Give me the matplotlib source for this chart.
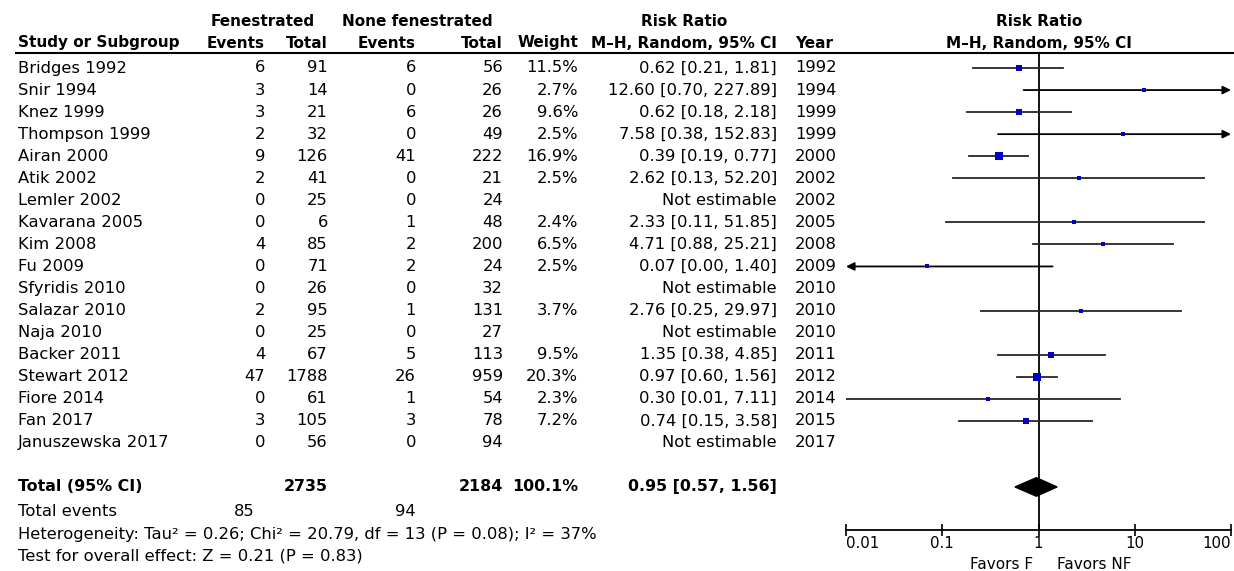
import matplotlib

matplotlib.use("Agg")
import matplotlib.pyplot as plt
import numpy as np
from matplotlib.patches import Polygon

# ---- data ----
studies = ["Bridges 1992", "Snir 1994", "Knez 1999", "Thompson 1999", "Airan 2000",
           "Atik 2002", "Lemler 2002", "Kavarana 2005", "Kim 2008", "Fu 2009",
           "Sfyridis 2010", "Salazar 2010", "Naja 2010", "Backer 2011", "Stewart 2012",
           "Fiore 2014", "Fan 2017", "Januszewska 2017"]
f_events = [6, 3, 3, 2, 9, 2, 0, 0, 4, 0, 0, 2, 0, 4, 47, 0, 3, 0]
f_total = [91, 14, 21, 32, 126, 41, 25, 6, 85, 71, 26, 95, 25, 67, 1788, 61, 105, 56]
nf_events = [6, 0, 6, 0, 41, 0, 0, 1, 2, 2, 0, 1, 0, 5, 26, 1, 3, 0]
nf_total = [56, 26, 26, 49, 222, 21, 24, 48, 200, 24, 32, 131, 27, 113, 959, 54, 78, 94]
weights = [11.5, 2.7, 9.6, 2.5, 16.9, 2.5, None, 2.4, 6.5, 2.5, None, 3.7, None,
           9.5, 20.3, 2.3, 7.2, None]
rr = [0.62, 12.60, 0.62, 7.58, 0.39, 2.62, None, 2.33, 4.71, 0.07, None, 2.76, None,
      1.35, 0.97, 0.30, 0.74, None]
ci_lo = [0.21, 0.70, 0.18, 0.38, 0.19, 0.13, None, 0.11, 0.88, 0.00, None, 0.25, None,
         0.38, 0.60, 0.01, 0.15, None]
ci_hi = [1.81, 227.89, 2.18, 152.83, 0.77, 52.20, None, 51.85, 25.21, 1.40, None, 29.97,
         None, 4.85, 1.56, 7.11, 3.58, None]
years = [1992, 1994, 1999, 1999, 2000, 2002, 2002, 2005, 2008, 2009, 2010, 2010, 2010,
         2011, 2012, 2014, 2015, 2017]

tot_f, tot_nf = 2735, 2184
tot_ev_f, tot_ev_nf = 85, 94
pooled, pooled_lo, pooled_hi = 0.95, 0.57, 1.56
het_text = "Heterogeneity: Tau² = 0.26; Chi² = 20.79, df = 13 (P = 0.08); I² = 37%"
overall_text = "Test for overall effect: Z = 0.21 (P = 0.83)"

xticks = [0.01, 0.1, 1, 10, 100]
xtick_labels = ["0.01", "0.1", "1", "10", "100"]
XMIN, XMAX = 0.01, 100

# ---- layout (pixels of a 1234x571 canvas) ----
W, H = 1234, 571
ROW0, ROWH = 68, 22.05          # y pixel of first study row, row pitch
def row_of(py):
    return (py - ROW0) / ROWH

FS = 11.8      # body text
FSB = 11       # bold header text
plt.rcParams["font.family"] = ["DejaVu Sans"]
fig = plt.figure(figsize=(W / 100, H / 100), dpi=100)

# table axes: x in pixels, y in row units
tab = fig.add_axes([0, 0, 1, 1])
tab.set_xlim(0, W)
tab.set_ylim(row_of(H), row_of(0))
tab.axis("off")

X_NAME, X_EV1, X_TOT1, X_EV2, X_TOT2 = 18, 265, 328, 416, 503
X_W, X_CI, X_YEAR, X_RR = 578, 777, 795, 684

hdr = dict(fontsize=FSB, fontweight="bold", va="center")
y1, y2 = row_of(21), row_of(43)
tab.text(263, y1, "Fenestrated", ha="center", **hdr)
tab.text(417, y1, "None fenestrated", ha="center", **hdr)
tab.text(X_RR, y1, "Risk Ratio", ha="center", **hdr)
tab.text(1039, y1, "Risk Ratio", ha="center", **hdr)
tab.text(X_NAME, y2, "Study or Subgroup", ha="left", **hdr)
tab.text(X_EV1, y2, "Events", ha="right", **hdr)
tab.text(X_TOT1, y2, "Total", ha="right", **hdr)
tab.text(X_EV2, y2, "Events", ha="right", **hdr)
tab.text(X_TOT2, y2, "Total", ha="right", **hdr)
tab.text(X_W, y2, "Weight", ha="right", **hdr)
tab.text(X_RR, y2, "M–H, Random, 95% CI", ha="center", **hdr)
tab.text(X_YEAR, y2, "Year", ha="left", **hdr)
tab.text(1039, y2, "M–H, Random, 95% CI", ha="center", **hdr)
tab.plot([15, W], [row_of(52.5)] * 2, color="black", lw=1.5, solid_capstyle="butt")

body = dict(fontsize=FS, va="center")
for i, name in enumerate(studies):
    tab.text(X_NAME, i, name, ha="left", **body)
    tab.text(X_EV1, i, str(f_events[i]), ha="right", **body)
    tab.text(X_TOT1, i, str(f_total[i]), ha="right", **body)
    tab.text(X_EV2, i, str(nf_events[i]), ha="right", **body)
    tab.text(X_TOT2, i, str(nf_total[i]), ha="right", **body)
    if weights[i] is not None:
        tab.text(X_W, i, f"{weights[i]:.1f}%", ha="right", **body)
        ci = f"{rr[i]:.2f} [{ci_lo[i]:.2f}, {ci_hi[i]:.2f}]"
    else:
        ci = "Not estimable"
    tab.text(X_CI, i, ci, ha="right", **body)
    tab.text(X_YEAR, i, str(years[i]), ha="left", **body)

yt = len(studies) + 1
bold = dict(fontsize=11.4, fontweight="bold", va="center")
tab.text(X_NAME, yt, "Total (95% CI)", ha="left", **bold)
tab.text(X_TOT1, yt, str(tot_f), ha="right", **bold)
tab.text(X_TOT2, yt, str(tot_nf), ha="right", **bold)
tab.text(X_W, yt, f"{sum(w for w in weights if w):.1f}%", ha="right", **bold)
tab.text(X_CI, yt, f"{pooled:.2f} [{pooled_lo:.2f}, {pooled_hi:.2f}]", ha="right", **bold)
tab.text(X_NAME, row_of(511), "Total events", ha="left", **body)
tab.text(255, row_of(511), str(tot_ev_f), ha="right", **body)
tab.text(X_EV2, row_of(511), str(tot_ev_nf), ha="right", **body)
tab.text(X_NAME, row_of(534), het_text, ha="left", **body)
tab.text(X_NAME, row_of(556), overall_text, ha="left", **body)

# ---- forest axes ----
AX_L, AX_R, AX_T, AX_B = 846, 1231, 52.5, 530
ax = fig.add_axes([AX_L / W, (H - AX_B) / H, (AX_R - AX_L) / W, (AX_B - AX_T) / H])
ax.patch.set_alpha(0)
ax.set_xscale("log")
ax.set_xlim(XMIN, XMAX)
ax.set_ylim(row_of(AX_B), row_of(AX_T))
for s in ("top", "right", "left"):
    ax.spines[s].set_visible(False)
ax.spines["bottom"].set_linewidth(1.3)
ax.set_yticks([])
ax.set_xticks(xticks)
ax.set_xticklabels(xtick_labels, fontsize=10.8)
ax.minorticks_off()
ax.tick_params(axis="x", direction="inout", length=8, width=1.2, pad=0)
tl = ax.get_xticklabels()
tl[0].set_ha("left")
tl[-1].set_ha("right")

ax.axvline(1, color="black", lw=1.3, zorder=1)

arrow_kw = dict(arrowstyle="-|>", color="black", lw=1.3, mutation_scale=12,
                shrinkA=0, shrinkB=0)
for i in range(len(studies)):
    if rr[i] is None:
        continue
    lo, hi = ci_lo[i], ci_hi[i]
    lo_c, hi_c = max(lo, XMIN), min(hi, XMAX)
    if lo < XMIN:
        ax.annotate("", xy=(lo_c, i), xytext=(hi_c, i), arrowprops=arrow_kw)
    elif hi > XMAX:
        ax.annotate("", xy=(hi_c, i), xytext=(lo_c, i), arrowprops=arrow_kw,
                    annotation_clip=False)
    else:
        ax.plot([lo_c, hi_c], [i, i], color="#262626", lw=1.3, zorder=2)
    # square side grows with sqrt(weight), in pixels -> points
    side_pt = 0.72 * (1.3 + 1.4 * np.sqrt(weights[i]))
    ax.scatter(rr[i], i, marker="s", s=side_pt ** 2, color="#0000C8",
               linewidths=0, zorder=3)

dh = 0.42
ax.add_patch(Polygon([(pooled_lo, yt), (pooled, yt - dh), (pooled_hi, yt), (pooled, yt + dh)],
                     closed=True, color="black", zorder=4))

ax.annotate("Favors F", xy=(1, 0), xycoords=("data", "axes fraction"),
            xytext=(-4, -25), textcoords="offset points", ha="right", va="center",
            fontsize=11)
ax.annotate("Favors NF", xy=(1, 0), xycoords=("data", "axes fraction"),
            xytext=(13, -25), textcoords="offset points", ha="left", va="center",
            fontsize=11)

fig.savefig("out.png", dpi=100)
